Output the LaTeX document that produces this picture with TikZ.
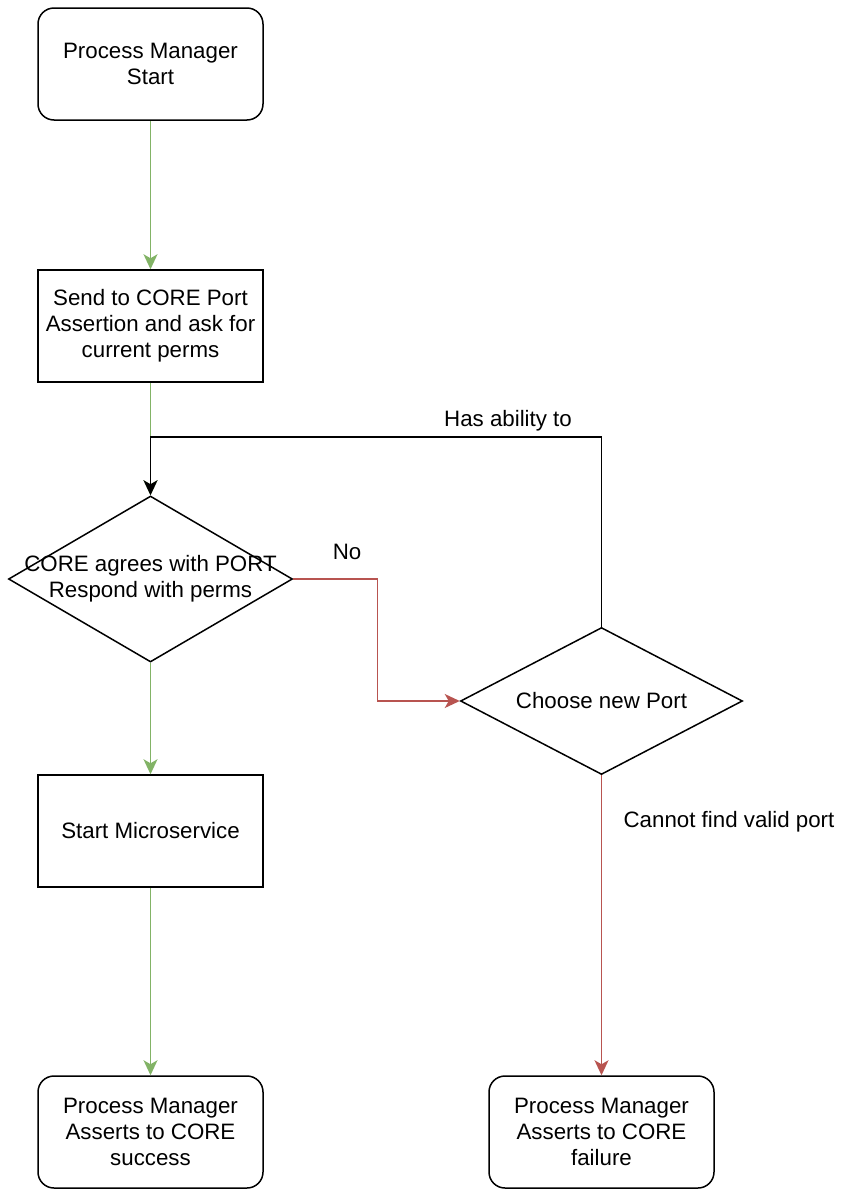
\documentclass[tikz,border=0pt]{standalone}
\usepackage{fontspec}
\setmainfont{Liberation Sans}
\usetikzlibrary{shapes.geometric,arrows.meta}
\definecolor{okgreen}{HTML}{82B366}
\definecolor{badred}{HTML}{B85450}
\tikzset{
    box/.style={draw, line width=1.5pt, minimum width=225pt, minimum height=112pt, align=center, inner sep=0pt},
    rbox/.style={box, rounded corners=16pt},
    dec/.style={draw, diamond, line width=1.5pt, inner sep=0pt},
    flow/.style={line width=1.5pt, -{Stealth[length=15pt, width=14pt, inset=4pt]}},
    flowg/.style={flow, okgreen},
    flowr/.style={flow, badred},
    flowk/.style={flow, black}
}
\begin{document}
\begin{tikzpicture}[x=1pt, y=-1pt, font=\fontsize{22.3}{26}\selectfont]
    \useasboundingbox (0,0) rectangle (844,1189);
    %(left column)
    \node[rbox] (start) at (150.5, 64) {Process Manager\\Start};
    \node[box] (send) at (150.5, 326) {Send to CORE Port\\Assertion and ask for\\current perms};
    \node[dec, minimum width=284pt, minimum height=166pt,
          label={[align=center]center:CORE agrees with PORT\\Respond with perms}] (chk) at (150.5, 579) {};
    \node[box] (micro) at (150.5, 831) {Start Microservice};
    \node[rbox] (ok) at (150.5, 1132) {Process Manager\\Asserts to CORE\\success};

    %(right column)
    \node[dec, minimum width=282pt, minimum height=147pt,
          label=center:Choose new Port] (port) at (601.5, 701) {};
    \node[rbox] (fail) at (601.5, 1132) {Process Manager\\Asserts to CORE\\failure};

    %(labels)
    \node (ability) at (508, 421) {Has ability to};
    \node (no) at (347, 552) {No};
    \node (nofind) at (729, 822) {Cannot find valid port};

    %(edges)
    \draw[flowg] (start) -- (send);
    \draw[flowg] (send) -- (chk);
    \coordinate (turn) at (601.5, 437);
    \draw[flowk] (port.north) -- (turn) -| (chk.north);
    \draw[flowr] (chk.east) -- ++(84,0) |- (port.west);
    \draw[flowg] (chk) -- (micro);
    \draw[flowg] (micro) -- (ok);
    \draw[flowr] (port) -- (fail);
\end{tikzpicture}
\end{document}
